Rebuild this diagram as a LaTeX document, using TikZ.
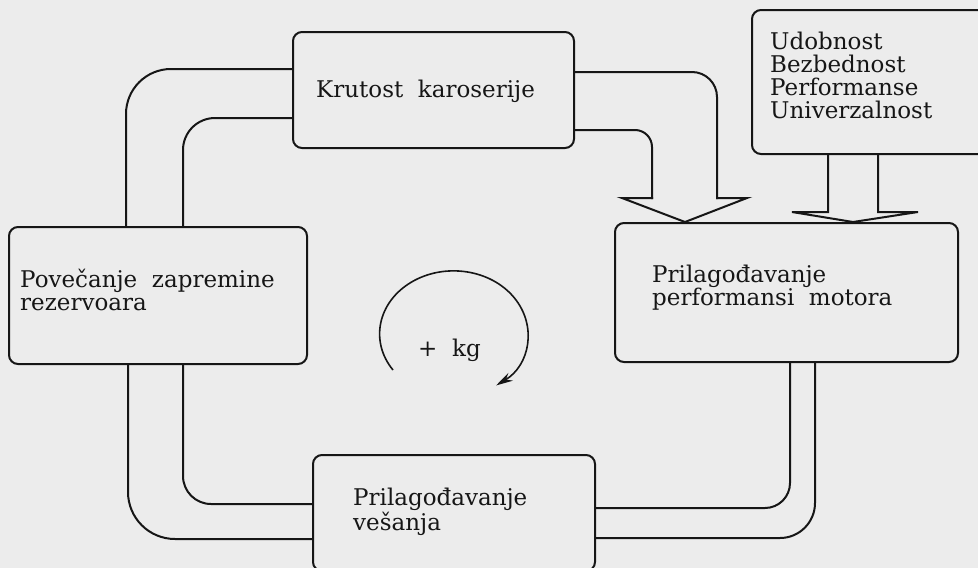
\documentclass[tikz,border=0pt]{standalone}
\usepackage{fontspec}
\setmainfont{DejaVu Serif}
\usetikzlibrary{arrows.meta}
\definecolor{paper}{RGB}{236,236,236}
\definecolor{ink}{RGB}{22,22,22}
\begin{document}
\begin{tikzpicture}[x=1pt,y=-1pt,
  box/.style={draw=ink, line width=2pt, rounded corners=9pt, inner sep=0pt},
  tube/.style={draw=ink, line width=2pt, line cap=rect},
  lbl/.style={anchor=base west, align=left, inner sep=0pt, text=ink,
              font=\fontsize{23}{23}\selectfont}]
\useasboundingbox (0,0) rectangle (978,568);
\fill[paper] (0,0) rectangle (978,568);
\clip (0,0) rectangle (978,568);

% boxes
\node[box, minimum width=281pt, minimum height=116pt] (kar) at (433.5,90) {};
\node[box, minimum width=298pt, minimum height=137pt] (pov) at (158,295.5) {};
\node[box, minimum width=282pt, minimum height=116pt] (ves) at (454,513) {};
\node[box, minimum width=343pt, minimum height=139pt] (mot) at (786.5,292.5) {};
\node[box, minimum width=235pt, minimum height=144pt] (udo) at (869.5,82) {};

% texts (base anchor = baseline of the last line)
\node[lbl] (tkar) at (316,97) {Krutost\ \ karoserije};
\node[lbl] (tpov) at (20,310) {Povečanje\ \ zapremine\\rezervoara};
\node[lbl] (tves) at (353,530) {Prilagođavanje\\vešanja};
\node[lbl] (tmot) at (652,305) {Prilagođavanje\\performansi\ \ motora};
\node[lbl] (tudo) at (770,118) {Udobnost\\Bezbednost\\Performanse\\Univerzalnost};
\node[lbl] (tkg) at (418,356) {+\ \ kg};

% left tubes (karoserija -> rezervoar)
\draw[tube, rounded corners=45pt] (kar.west |- 0,69) -| (126,0 |- pov.north);
\draw[tube, rounded corners=32pt] (kar.west |- 0,118) -| (183,0 |- pov.north);

% bottom-left tubes (rezervoar -> vesanje)
\draw[tube, rounded corners=47pt] (128,0 |- pov.south) |- (ves.west |- 0,539);
\draw[tube, rounded corners=28pt] (183,0 |- pov.south) |- (ves.west |- 0,504);

% bottom-right tubes (vesanje -> motor)
\draw[tube, rounded corners=25pt] (ves.east |- 0,508) -| (790,0 |- mot.south);
\draw[tube, rounded corners=35pt] (ves.east |- 0,538) -| (815,0 |- mot.south);

% big arrow karoserija -> motor
\coordinate (tip1) at (685,0 |- mot.north);
\draw[tube, rounded corners=25pt] (kar.east |- 0,72) -| (717,198);
\draw[tube, line join=miter] (717,198) -- (747,198) -- (tip1) -- (622,198) -- (652,198);
\draw[tube, rounded corners=17pt] (652,198) |- (kar.east |- 0,130);

% big arrow udobnost -> motor
\coordinate (tip2) at (853,0 |- mot.north);
\draw[tube, line join=miter] (828,0 |- udo.south) -- (828,212) -- (792,212) -- (tip2)
  -- (918,212) -- (878,212) -- (878,0 |- udo.south);

% circular arrow
\begin{scope}[y=1pt]
\coordinate (cyc) at (393,-370);
\draw[ink, line width=1.6pt, -{Stealth[length=17pt,width=9pt]}]
  (cyc) arc[start angle=215, end angle=-55, x radius=74, y radius=63];
\end{scope}
\end{tikzpicture}
\end{document}
